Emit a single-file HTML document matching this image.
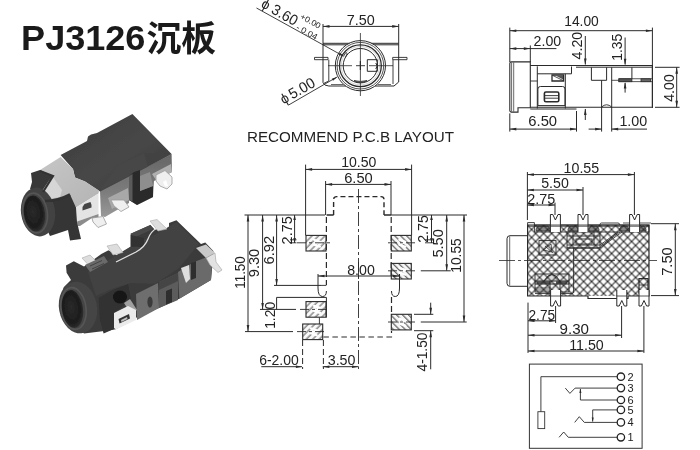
<!DOCTYPE html>
<html><head><meta charset="utf-8"><title>PJ3126</title>
<style>
html,body{margin:0;padding:0;background:#fff;overflow:hidden}
svg{display:block;will-change:transform}
text{font-family:"Liberation Sans",sans-serif}
</style></head><body>
<svg width="700" height="450" viewBox="0 0 700 450">
<rect x="0" y="0" width="700" height="450" fill="#fff"/>
<text x="21.1" y="50.2" font-size="35" font-weight="bold" text-anchor="start" fill="#1a1a1a" textLength="124.3" lengthAdjust="spacingAndGlyphs">PJ3126</text>
<text x="146.4" y="51.3" font-size="35" font-weight="bold" text-anchor="start" fill="#1a1a1a" textLength="69.5" lengthAdjust="spacingAndGlyphs" style="font-family:'Liberation Sans','Noto Sans CJK SC',sans-serif">沉板</text>
<defs><filter id="soft" x="-5%" y="-5%" width="110%" height="110%"><feGaussianBlur stdDeviation="0.55"/></filter><linearGradient id="gTop1" x1="0" y1="0" x2="1" y2="1"><stop offset="0" stop-color="#3e3e3e"/><stop offset="0.55" stop-color="#474747"/><stop offset="1" stop-color="#3a3a3a"/></linearGradient><linearGradient id="gSide1" x1="0" y1="0" x2="0" y2="1"><stop offset="0" stop-color="#666"/><stop offset="0.6" stop-color="#7c7c7c"/><stop offset="1" stop-color="#999"/></linearGradient><linearGradient id="gSh" x1="0" y1="0" x2="1" y2="1"><stop offset="0" stop-color="#c6c6c6"/><stop offset="1" stop-color="#b4b4b4"/></linearGradient><radialGradient id="gHole" cx="0.45" cy="0.45" r="0.6"><stop offset="0" stop-color="#2a2a2a"/><stop offset="0.7" stop-color="#1c1c1c"/><stop offset="1" stop-color="#333"/></radialGradient></defs>
<g filter="url(#soft)">
<polygon points="100,191 171.6,154 172,172 154,181 153,197 137,205 129,200 129,203 105,217 101,216" fill="url(#gSide1)" stroke="none" stroke-width="1"/>
<polygon points="108,198 128,188 129,200 112,209" fill="#a8a8a8" stroke="none" stroke-width="1"/>
<polygon points="152,174 171,164 172,172 156,180" fill="#b0b0b0" stroke="none" stroke-width="1"/>
<polygon points="60.6,155 87,141 88,136.5 91,134.5 97,133 132.4,114 171.6,154 148,166.5 126,178 100,191.5 85,181.5 75,177.5 73,169" fill="url(#gTop1)" stroke="none" stroke-width="1"/>
<polygon points="100,191 118,165 144,153 148,166.5" fill="#4b4b4b" stroke="none" stroke-width="1"/>
<polygon points="118,165 144,153 171.6,154 148,166.5 126,178 100,191.5" fill="#434343" stroke="none" stroke-width="1" opacity="0.6"/>
<polygon points="129,176 134,172 140,170 140,191 153,186 153,197 137,205 129,200" fill="#2c2c2c" stroke="none" stroke-width="1"/>
<polygon points="129,176 132.5,174 132.5,201.5 129,200" fill="#5a5a5a" stroke="none" stroke-width="1"/>
<polygon points="140,176 150,172 153,186 140,191" fill="#8e8e8e" stroke="none" stroke-width="1"/>
<polygon points="156,175 165,170.5 172,177 172,184 167,189 160,186 156,181" fill="#efefef" stroke="#9a9a9a" stroke-width="0.8"/>
<polygon points="163,182 166,180 168,186 165,186.5" fill="#fff" stroke="none" stroke-width="1"/>
<polygon points="111,200 124,200 129,207 121,211.5 114,206" fill="#efefef" stroke="#9a9a9a" stroke-width="0.8"/>
<polygon points="92,218 103,216.5 106.5,224 98,227.5 93,222" fill="#efefef" stroke="#9a9a9a" stroke-width="0.8"/>
<polygon points="40,170 60.6,157 73,169 75,177.5 85,181.5 99,190.5 98.5,193.5 76,207.5 70,197 45,201 40,190" fill="url(#gSh)" stroke="none" stroke-width="1"/>
<polygon points="43,183 53,177 62,190 60,197 48,199" fill="#d6d6d6" stroke="none" stroke-width="1"/>
<polygon points="76,207.5 98.5,193.5 98.5,214 77,221.5" fill="#e4e4e4" stroke="none" stroke-width="1"/>
<polygon points="77,221.5 98.5,214 98.5,217 92,218 80,226 77.5,226" fill="#8c8c8c" stroke="none" stroke-width="1"/>
<polygon points="82.5,207 84.5,204 90.5,202 91.5,205 91.5,207.5 82.5,210.5" fill="#444" stroke="none" stroke-width="1"/>
<polygon points="31,173 40,170 53,176 49,180.5 44,188 40,194 30,189 32,182" fill="#383838" stroke="none" stroke-width="1"/>
<polygon points="45,201 56,199.5 70,194.5 76,207.5 77,222 81,239 70,240.5 68,230 50,236 40,215" fill="#353535" stroke="none" stroke-width="1"/>
<ellipse cx="38" cy="212" rx="17" ry="24.5" fill="#434343" transform="rotate(-8 38 212)"/>
<ellipse cx="35" cy="213" rx="12.3" ry="20" fill="none" stroke="#555" stroke-width="1.6" transform="rotate(-8 35 213)"/>
<ellipse cx="34.5" cy="213.5" rx="10.5" ry="18" fill="url(#gHole)" transform="rotate(-8 34.5 213.5)"/>
<path d="M40,171 L53,176 Q48,184 43,192" stroke="#333" stroke-width="2.2" fill="none"/>
<path d="M45,201 Q58,201 70,194.5" stroke="#333" stroke-width="2.6" fill="none"/>
<polygon points="66,265.6 73.8,261.3 84,266.5 101.3,254 108.5,250.3 117,255.5 130.7,246.8 130.7,233.8 150.4,225.1 154.7,229.5 169,228 169,223 176.4,220.2 201,243.9 205.3,242.5 213.4,251 213.4,261 212.6,262.7 211,280 179.3,298.8 159,308 138.8,316.2 115.7,329.2 108.5,330.6 84,333.5 59.3,307.5 63.7,287.3 71,280 66.6,272.8" fill="#3b3b3b" stroke="none" stroke-width="1"/>
<polygon points="98.7,298 112,290.6 128,284 131,300 114,313 114,329 103.6,333.6 100,320" fill="#303030" stroke="none" stroke-width="1"/>
<polygon points="88,272 130,247 160,232 176.4,222 199,244 179,268 155,284 131,283 112,289 96,296" fill="#424242" stroke="none" stroke-width="1"/>
<polygon points="136,294 158,283 159,308 137,320" fill="#6e6e6e" stroke="none" stroke-width="1"/>
<polygon points="159,282 178,273 178,300 159,308" fill="#5c5c5c" stroke="none" stroke-width="1"/>
<polygon points="159,282 178,273 178,281 159,290" fill="#454545" stroke="none" stroke-width="1"/>
<polygon points="178,272 194,262 212.6,255 211,280 179.3,298.8" fill="#6a6a6a" stroke="none" stroke-width="1"/>
<polygon points="166,291 172,288.5 172,302 166,304.5" fill="#2e2e2e" stroke="none" stroke-width="1"/>
<ellipse cx="150" cy="302" rx="2.6" ry="5.5" fill="#3a3a3a"/>
<polygon points="191,263 196,261 196,278 191,280" fill="#2f2f2f" stroke="none" stroke-width="1"/>
<polygon points="181,268 189,265 190,279 186,283" fill="#dedede" stroke="none" stroke-width="1"/>
<polygon points="196,248 206,244.6 215,253 206,258" fill="#c9c9c9" stroke="none" stroke-width="1"/>
<polygon points="206,258 215,253 216,262 222,270 218,272.5 210,265" fill="#e2e2e2" stroke="#a0a0a0" stroke-width="0.6"/>
<polygon points="82,258 90,255 96,261 88,264.5" fill="#dddddd" stroke="#aaa" stroke-width="0.6"/>
<polygon points="107,246 117,244 123,252.5 113,255" fill="#dddddd" stroke="#aaa" stroke-width="0.6"/>
<polygon points="150,221 157,219.5 167,229 158,231" fill="#dddddd" stroke="#aaa" stroke-width="0.6"/>
<polygon points="130.7,233.8 150.4,225.1 153,229 133,238" fill="#4a4a4a" stroke="none" stroke-width="1"/>
<polygon points="130.7,235 144,238 144,247 130.7,246.8" fill="#333" stroke="none" stroke-width="1"/>
<path d="M157,228 Q151,231 148,239 Q145,247 136,252 L116,262" stroke="#e0e0e0" stroke-width="1.3" fill="none"/>
<polygon points="85,265 104,256 108,262 90,272" fill="#6a6a6a" stroke="none" stroke-width="1"/>
<path d="M90,266 L102,260.5 M92,269 L104,263.5" stroke="#3a3a3a" stroke-width="0.8" fill="none"/>
<ellipse cx="120" cy="297" rx="7" ry="6.5" fill="#161616"/>
<polygon points="124,303 130,299 137,310 131,314" fill="#a0a0a0" stroke="none" stroke-width="1"/>
<polygon points="114,313 128,306 136,310 136,320 116,329.5 114,328" fill="#ebebeb" stroke="none" stroke-width="1"/>
<polygon points="118.5,319 129,314 130,318.5 119.5,323.5" fill="#333" stroke="none" stroke-width="1"/>
<polygon points="121,320 127,317 127.5,319 121.5,322" fill="#bbb" stroke="none" stroke-width="1"/>
<ellipse cx="78" cy="307.5" rx="19" ry="26" fill="#454545" transform="rotate(-10 78 307.5)"/>
<ellipse cx="73.5" cy="308.5" rx="12.5" ry="21" fill="none" stroke="#575757" stroke-width="1.6" transform="rotate(-8 73.5 308.5)"/>
<ellipse cx="72.5" cy="309" rx="10.5" ry="19" fill="url(#gHole)" transform="rotate(-8 72.5 309)"/>
</g>
<line x1="323" y1="24" x2="323" y2="58" stroke="#2a2a2a" stroke-width="1"/>
<line x1="398.7" y1="24" x2="398.7" y2="58" stroke="#2a2a2a" stroke-width="1"/>
<line x1="323" y1="26.4" x2="398.7" y2="26.4" stroke="#2a2a2a" stroke-width="1"/>
<polygon points="323,26.4 329.5,25.1 329.5,27.7" fill="#2a2a2a" stroke="none" stroke-width="1"/>
<polygon points="398.7,26.4 392.2,27.7 392.2,25.1" fill="#2a2a2a" stroke="none" stroke-width="1"/>
<text x="346.8" y="25" font-size="15" font-weight="normal" text-anchor="start" fill="#222" textLength="28" lengthAdjust="spacingAndGlyphs">7.50</text>
<path d="M323,43.3 H398.7 M323,44.8 H398.7" stroke="#2a2a2a" stroke-width="1" fill="none"/>
<path d="M323,58 V82.5 Q324,85.8 328.8,86 H346 M398.7,58 V82 L394,86 H375" stroke="#2a2a2a" stroke-width="1" fill="none"/>
<path d="M314.5,57.4 H328 V59.7 H314.5 Z M392.7,57.4 H407 V59.7 H392.7 Z" stroke="#2a2a2a" stroke-width="0.9" fill="none"/>
<path d="M328.8,59.7 V81 L323.5,83.5 M393,59.7 V84 " stroke="#2a2a2a" stroke-width="0.9" fill="none"/>
<path d="M331,84.5 H343 M378,84.5 H391" stroke="#2a2a2a" stroke-width="0.7" fill="none"/>
<circle cx="360.4" cy="65.7" r="25.1" fill="#fff" stroke="#2a2a2a" stroke-width="1"/>
<circle cx="360.4" cy="65.7" r="23.3" fill="none" stroke="#2a2a2a" stroke-width="0.8"/>
<circle cx="360.4" cy="65.7" r="20.9" fill="none" stroke="#2a2a2a" stroke-width="1.3"/>
<circle cx="360.4" cy="65.7" r="17.2" fill="none" stroke="#2a2a2a" stroke-width="1"/>
<circle cx="360.4" cy="65.7" r="19.2" fill="none" stroke="#aaa" stroke-width="0.5"/>
<line x1="360.4" y1="33" x2="360.4" y2="96" stroke="#2a2a2a" stroke-width="0.8"/>
<line x1="328" y1="65.7" x2="352" y2="65.7" stroke="#2a2a2a" stroke-width="0.8"/>
<line x1="356" y1="65.7" x2="365" y2="65.7" stroke="#2a2a2a" stroke-width="0.9"/>
<line x1="369" y1="65.7" x2="393" y2="65.7" stroke="#2a2a2a" stroke-width="0.8"/>
<line x1="360.4" y1="61" x2="360.4" y2="70" stroke="#2a2a2a" stroke-width="1.2"/>
<path d="M367.3,59.7 H377.3 V71.3 H367.3 Z M375.8,63 Q378.5,65.7 375.8,69 " stroke="#2a2a2a" stroke-width="1" fill="none"/>
<path d="M354,80.6 Q360.4,84.5 367,80.6 Q360.4,82.3 354,80.6 Z" stroke="#2a2a2a" stroke-width="0.8" fill="#777"/>
<path d="M343.6,56 l2.2,-3.5 l1.4,0.8 l-1.6,4" stroke="#2a2a2a" stroke-width="0.8" fill="none"/>
<line x1="256.5" y1="8" x2="342.5" y2="55.6" stroke="#2a2a2a" stroke-width="0.9"/>
<polygon points="344.5,56.7 338.67,54.84 339.83,52.74" fill="#2a2a2a" stroke="none" stroke-width="1"/>
<line x1="288.3" y1="105.2" x2="336.7" y2="77.2" stroke="#2a2a2a" stroke-width="0.9"/>
<polygon points="337.6,76.7 333,80.74 331.8,78.66" fill="#2a2a2a" stroke="none" stroke-width="1"/>
<text x="260.2" y="6.4" font-size="14" font-weight="normal" text-anchor="start" fill="#222" transform="rotate(29 260.2 6.4)">ϕ</text>
<text x="270.2" y="12.6" font-size="15" font-weight="normal" text-anchor="start" fill="#222" textLength="27.8" lengthAdjust="spacingAndGlyphs" transform="rotate(29 270.2 12.6)">3.60</text>
<text x="299.6" y="18.2" font-size="8.2" font-weight="normal" text-anchor="start" fill="#222" textLength="22" lengthAdjust="spacingAndGlyphs" transform="rotate(29 299.6 18.2)">+0.00</text>
<text x="295.5" y="28.9" font-size="8.2" font-weight="normal" text-anchor="start" fill="#222" textLength="23" lengthAdjust="spacingAndGlyphs" transform="rotate(29 295.5 28.9)">- 0.04</text>
<text x="283.6" y="104.5" font-size="14" font-weight="normal" text-anchor="start" fill="#222" transform="rotate(-30 283.6 104.5)">ϕ</text>
<text x="292.2" y="99.6" font-size="15" font-weight="normal" text-anchor="start" fill="#222" textLength="27.8" lengthAdjust="spacingAndGlyphs" transform="rotate(-30 292.2 99.6)">5.00</text>
<line x1="509.8" y1="27.6" x2="509.8" y2="62" stroke="#2a2a2a" stroke-width="1"/>
<line x1="652.4" y1="27.6" x2="652.4" y2="108" stroke="#2a2a2a" stroke-width="1"/>
<line x1="509.8" y1="30.7" x2="652.4" y2="30.7" stroke="#2a2a2a" stroke-width="1"/>
<polygon points="509.8,30.7 516.3,29.4 516.3,32" fill="#2a2a2a" stroke="none" stroke-width="1"/>
<polygon points="652.4,30.7 645.9,32 645.9,29.4" fill="#2a2a2a" stroke="none" stroke-width="1"/>
<text x="564.2" y="26.3" font-size="15" font-weight="normal" text-anchor="start" fill="#222" textLength="34.6" lengthAdjust="spacingAndGlyphs">14.00</text>
<line x1="530.3" y1="45.4" x2="530.3" y2="62" stroke="#2a2a2a" stroke-width="1"/>
<line x1="509.8" y1="48.6" x2="556.4" y2="48.6" stroke="#2a2a2a" stroke-width="1"/>
<polygon points="530.3,48.6 523.8,49.9 523.8,47.3" fill="#2a2a2a" stroke="none" stroke-width="1"/>
<polygon points="509.8,48.6 516.3,47.3 516.3,49.9" fill="#2a2a2a" stroke="none" stroke-width="1"/>
<text x="533.6" y="46.4" font-size="15" font-weight="normal" text-anchor="start" fill="#222" textLength="27.6" lengthAdjust="spacingAndGlyphs">2.00</text>
<line x1="585.3" y1="36" x2="585.3" y2="64.5" stroke="#2a2a2a" stroke-width="1"/>
<polygon points="585.3,65 584,58.5 586.6,58.5" fill="#2a2a2a" stroke="none" stroke-width="1"/>
<line x1="585.3" y1="109" x2="585.3" y2="120" stroke="#2a2a2a" stroke-width="1"/>
<polygon points="585.3,108.5 586.6,115 584,115" fill="#2a2a2a" stroke="none" stroke-width="1"/>
<text x="581.8" y="59.4" font-size="15" font-weight="normal" text-anchor="start" fill="#222" textLength="27.6" lengthAdjust="spacingAndGlyphs" transform="rotate(-90 581.8 59.4)">4.20</text>
<line x1="625.1" y1="37.5" x2="625.1" y2="64.5" stroke="#2a2a2a" stroke-width="1"/>
<polygon points="625.1,65.2 623.8,58.7 626.4,58.7" fill="#2a2a2a" stroke="none" stroke-width="1"/>
<line x1="625.1" y1="83" x2="625.1" y2="92.6" stroke="#2a2a2a" stroke-width="1"/>
<polygon points="625.1,82 626.4,88.5 623.8,88.5" fill="#2a2a2a" stroke="none" stroke-width="1"/>
<text x="622" y="60.8" font-size="15" font-weight="normal" text-anchor="start" fill="#222" textLength="27.1" lengthAdjust="spacingAndGlyphs" transform="rotate(-90 622 60.8)">1.35</text>
<line x1="655" y1="67.3" x2="679.6" y2="67.3" stroke="#2a2a2a" stroke-width="1"/>
<line x1="655" y1="107.3" x2="679.6" y2="107.3" stroke="#2a2a2a" stroke-width="1"/>
<line x1="676.7" y1="67.3" x2="676.7" y2="107.3" stroke="#2a2a2a" stroke-width="1"/>
<polygon points="676.7,67.3 678,73.8 675.4,73.8" fill="#2a2a2a" stroke="none" stroke-width="1"/>
<polygon points="676.7,107.3 675.4,100.8 678,100.8" fill="#2a2a2a" stroke="none" stroke-width="1"/>
<text x="673.8" y="101.8" font-size="15" font-weight="normal" text-anchor="start" fill="#222" textLength="27.6" lengthAdjust="spacingAndGlyphs" transform="rotate(-90 673.8 101.8)">4.00</text>
<line x1="509.8" y1="113.4" x2="509.8" y2="131.6" stroke="#2a2a2a" stroke-width="1"/>
<line x1="576.5" y1="111" x2="576.5" y2="131.6" stroke="#2a2a2a" stroke-width="1"/>
<line x1="509.8" y1="129.1" x2="576.5" y2="129.1" stroke="#2a2a2a" stroke-width="1"/>
<polygon points="509.8,129.1 516.3,127.8 516.3,130.4" fill="#2a2a2a" stroke="none" stroke-width="1"/>
<polygon points="576.5,129.1 570,130.4 570,127.8" fill="#2a2a2a" stroke="none" stroke-width="1"/>
<text x="528.3" y="126.2" font-size="15" font-weight="normal" text-anchor="start" fill="#222" textLength="28.8" lengthAdjust="spacingAndGlyphs">6.50</text>
<line x1="601.6" y1="107" x2="601.6" y2="131.6" stroke="#2a2a2a" stroke-width="1"/>
<line x1="611.7" y1="107" x2="611.7" y2="131.6" stroke="#2a2a2a" stroke-width="1"/>
<line x1="588.6" y1="129.1" x2="601.6" y2="129.1" stroke="#2a2a2a" stroke-width="1"/>
<polygon points="601.6,129.1 595.1,130.4 595.1,127.8" fill="#2a2a2a" stroke="none" stroke-width="1"/>
<line x1="611.7" y1="129.1" x2="647" y2="129.1" stroke="#2a2a2a" stroke-width="1"/>
<polygon points="611.7,129.1 618.2,127.8 618.2,130.4" fill="#2a2a2a" stroke="none" stroke-width="1"/>
<text x="619.4" y="126.2" font-size="15" font-weight="normal" text-anchor="start" fill="#222" textLength="27.8" lengthAdjust="spacingAndGlyphs">1.00</text>
<path d="M511.3,61.9 H530.3 V107.7 H518 V112.1 H511.3 Q509.8,112.1 509.8,110.6 V63.4 Q509.8,61.9 511.3,61.9 Z" stroke="#2a2a2a" stroke-width="1.1" fill="#fff"/>
<line x1="511.6" y1="62.5" x2="511.6" y2="111.5" stroke="#2a2a2a" stroke-width="0.7"/>
<line x1="513.7" y1="62.5" x2="513.7" y2="111.5" stroke="#2a2a2a" stroke-width="0.7"/>
<path d="M530.3,65.5 H652.4 V107.3 H530.3" stroke="#2a2a2a" stroke-width="1.1" fill="none"/>
<line x1="576" y1="67.2" x2="652.4" y2="67.2" stroke="#2a2a2a" stroke-width="1"/>
<line x1="530.3" y1="109" x2="576.5" y2="109" stroke="#2a2a2a" stroke-width="1"/>
<line x1="537.3" y1="66.3" x2="537.3" y2="108.5" stroke="#2a2a2a" stroke-width="1"/>
<line x1="530.3" y1="81" x2="537.3" y2="81" stroke="#2a2a2a" stroke-width="0.9"/>
<path d="M537.3,73.8 H571.5 V66.5" stroke="#2a2a2a" stroke-width="1" fill="none"/>
<line x1="565.3" y1="73.8" x2="565.3" y2="108.5" stroke="#2a2a2a" stroke-width="1"/>
<path d="M552,75 H563.6 V81 H552 Z" stroke="#2a2a2a" stroke-width="1.3" fill="none"/>
<path d="M553,75.6 L563,80.5" stroke="#2a2a2a" stroke-width="0.8" fill="none"/>
<polygon points="556,75.8 563,75.8 563,79.5" fill="#555" stroke="none" stroke-width="1"/>
<path d="M537.9,105.6 V89 Q537.9,86.5 540.4,86.5 H562.5 Q565,86.5 565,89 V105.6 Z" stroke="#2a2a2a" stroke-width="1" fill="none"/>
<rect x="544.4" y="92" width="14.4" height="9.8" fill="none" stroke="#2a2a2a" stroke-width="1.6" rx="1.5"/>
<line x1="545" y1="95.6" x2="558.5" y2="95.6" stroke="#2a2a2a" stroke-width="0.9"/>
<line x1="545" y1="98.2" x2="558.5" y2="98.2" stroke="#2a2a2a" stroke-width="0.9"/>
<path d="M591.4,67.3 V80.3 H606.6 V67.3" stroke="#2a2a2a" stroke-width="1" fill="none"/>
<line x1="601.6" y1="80.3" x2="601.6" y2="107" stroke="#2a2a2a" stroke-width="1"/>
<line x1="611.7" y1="67.3" x2="611.7" y2="107" stroke="#2a2a2a" stroke-width="1"/>
<path d="M601.6,107 Q606.6,102.5 611.7,107" stroke="#2a2a2a" stroke-width="0.9" fill="none"/>
<line x1="631.9" y1="67.3" x2="631.9" y2="78.8" stroke="#2a2a2a" stroke-width="1"/>
<rect x="618.9" y="78.8" width="33.5" height="2.9" fill="none" stroke="#2a2a2a" stroke-width="0.8" rx="0"/>
<rect x="618.9" y="78.8" width="13" height="2.9" fill="#555" stroke="#2a2a2a" stroke-width="0.8" rx="0"/>
<rect x="641" y="78.8" width="9.5" height="2.9" fill="#666" stroke="#2a2a2a" stroke-width="0.8" rx="0"/>
<line x1="611.7" y1="80.3" x2="618.9" y2="80.3" stroke="#2a2a2a" stroke-width="0.8"/>
<text x="247" y="141.7" font-size="14" font-weight="normal" text-anchor="start" fill="#222" textLength="207" lengthAdjust="spacingAndGlyphs">RECOMMEND P.C.B LAYOUT</text>
<line x1="305.6" y1="164.6" x2="305.6" y2="235.4" stroke="#2a2a2a" stroke-width="1"/>
<line x1="411.6" y1="164.6" x2="411.6" y2="235.4" stroke="#2a2a2a" stroke-width="1"/>
<line x1="305.6" y1="169.4" x2="411.6" y2="169.4" stroke="#2a2a2a" stroke-width="1"/>
<polygon points="305.6,169.4 312.1,168.1 312.1,170.7" fill="#2a2a2a" stroke="none" stroke-width="1"/>
<polygon points="411.6,169.4 405.1,170.7 405.1,168.1" fill="#2a2a2a" stroke="none" stroke-width="1"/>
<text x="341.2" y="167" font-size="15" font-weight="normal" text-anchor="start" fill="#222" textLength="35.2" lengthAdjust="spacingAndGlyphs">10.50</text>
<line x1="325.6" y1="181" x2="325.6" y2="215" stroke="#2a2a2a" stroke-width="1"/>
<line x1="391" y1="181" x2="391" y2="215" stroke="#2a2a2a" stroke-width="1"/>
<line x1="325.6" y1="184.4" x2="391" y2="184.4" stroke="#2a2a2a" stroke-width="1"/>
<polygon points="325.6,184.4 332.1,183.1 332.1,185.7" fill="#2a2a2a" stroke="none" stroke-width="1"/>
<polygon points="391,184.4 384.5,185.7 384.5,183.1" fill="#2a2a2a" stroke="none" stroke-width="1"/>
<text x="344.2" y="183" font-size="15" font-weight="normal" text-anchor="start" fill="#222" textLength="28.6" lengthAdjust="spacingAndGlyphs">6.50</text>
<line x1="244.5" y1="215" x2="325" y2="215" stroke="#2a2a2a" stroke-width="1.1"/>
<line x1="391" y1="215" x2="467" y2="215" stroke="#2a2a2a" stroke-width="1.1"/>
<path d="M333.6,215 V199.6 Q333.6,196.6 336.6,196.6 H381 Q384,196.6 384,199.6 V215" stroke="#2a2a2a" stroke-width="1.4" fill="none" stroke-dasharray="5,3"/>
<path d="M326.6,215 H333.6 M384,215 H391" stroke="#2a2a2a" stroke-width="1.3" fill="none"/>
<path d="M326.4,217 V285" stroke="#2a2a2a" stroke-width="1.2" fill="none" stroke-dasharray="6,3"/>
<path d="M391.2,217 V276" stroke="#2a2a2a" stroke-width="1.2" fill="none" stroke-dasharray="6,3"/>
<path d="M391.5,297 V314" stroke="#2a2a2a" stroke-width="1.2" fill="none" stroke-dasharray="6,3"/>
<path d="M323.4,337 H391.5 V331" stroke="#2a2a2a" stroke-width="1.2" fill="none" stroke-dasharray="5.5,3.5"/>
<path d="M302.6,340 V369 M323.4,340 V369" stroke="#2a2a2a" stroke-width="1" fill="none" stroke-dasharray="6,3"/>
<path d="M358.5,189 V369" stroke="#2a2a2a" stroke-width="0.9" fill="none" stroke-dasharray="14,3,3,3"/>
<defs><pattern id="ht" width="4.6" height="4.6" patternUnits="userSpaceOnUse" patternTransform="rotate(-45)"><rect width="4.6" height="4.6" fill="#fafafa"/><line x1="0" y1="1" x2="4.6" y2="1" stroke="#2c2c2c" stroke-width="0.8"/></pattern><pattern id="ht2" width="4.2" height="4.2" patternUnits="userSpaceOnUse" patternTransform="rotate(45)"><rect width="4.2" height="4.2" fill="#f6f6f6"/><line x1="0" y1="1" x2="4.2" y2="1" stroke="#262626" stroke-width="0.85"/></pattern></defs>
<rect x="306" y="235.4" width="20" height="15.6" fill="url(#ht)" stroke="#2a2a2a" stroke-width="1.1" rx="0"/>
<path d="M314,239.7 L320,241.7 L314,244.7 L320,246.7" stroke="#fff" stroke-width="2.2" fill="none" stroke-linejoin="round" stroke-linecap="round"/>
<rect x="306" y="301.6" width="20" height="15.6" fill="url(#ht)" stroke="#2a2a2a" stroke-width="1.1" rx="0"/>
<path d="M314,305.9 L320,307.9 L314,310.9 L320,312.9" stroke="#fff" stroke-width="2.2" fill="none" stroke-linejoin="round" stroke-linecap="round"/>
<rect x="302.7" y="324" width="20" height="15.6" fill="url(#ht)" stroke="#2a2a2a" stroke-width="1.1" rx="0"/>
<path d="M310.7,328.3 L316.7,330.3 L310.7,333.3 L316.7,335.3" stroke="#fff" stroke-width="2.2" fill="none" stroke-linejoin="round" stroke-linecap="round"/>
<rect x="391.3" y="235.4" width="20" height="15.6" fill="url(#ht2)" stroke="#2a2a2a" stroke-width="1.1" rx="0"/>
<path d="M399.3,239.7 L405.3,241.7 L399.3,244.7 L405.3,246.7" stroke="#fff" stroke-width="2.2" fill="none" stroke-linejoin="round" stroke-linecap="round"/>
<rect x="391.3" y="263.4" width="20" height="15.6" fill="url(#ht2)" stroke="#2a2a2a" stroke-width="1.1" rx="0"/>
<path d="M399.3,267.7 L405.3,269.7 L399.3,272.7 L405.3,274.7" stroke="#fff" stroke-width="2.2" fill="none" stroke-linejoin="round" stroke-linecap="round"/>
<rect x="391.3" y="314.3" width="20" height="15.6" fill="url(#ht2)" stroke="#2a2a2a" stroke-width="1.1" rx="0"/>
<path d="M399.3,318.6 L405.3,320.6 L399.3,323.6 L405.3,325.6" stroke="#fff" stroke-width="2.2" fill="none" stroke-linejoin="round" stroke-linecap="round"/>
<path d="M297,242.8 H330" stroke="#2a2a2a" stroke-width="0.9" fill="none" stroke-dasharray="9,3,3,3"/>
<path d="M300,309.4 H330" stroke="#2a2a2a" stroke-width="0.9" fill="none" stroke-dasharray="9,3,3,3"/>
<path d="M297,331.6 H327" stroke="#2a2a2a" stroke-width="0.9" fill="none" stroke-dasharray="9,3,3,3"/>
<path d="M388,242.8 H417" stroke="#2a2a2a" stroke-width="0.9" fill="none" stroke-dasharray="9,3,3,3"/>
<path d="M388,270.8 H417" stroke="#2a2a2a" stroke-width="0.9" fill="none" stroke-dasharray="9,3,3,3"/>
<path d="M388,322 H417" stroke="#2a2a2a" stroke-width="0.9" fill="none" stroke-dasharray="9,3,3,3"/>
<line x1="260" y1="309.4" x2="296" y2="309.4" stroke="#2a2a2a" stroke-width="1"/>
<line x1="245" y1="331.6" x2="293" y2="331.6" stroke="#2a2a2a" stroke-width="1"/>
<line x1="420.8" y1="270.8" x2="450.7" y2="270.8" stroke="#2a2a2a" stroke-width="1"/>
<line x1="420.8" y1="322" x2="466.7" y2="322" stroke="#2a2a2a" stroke-width="1"/>
<path d="M318,274 V288 Q318,296.5 322.5,296.5 Q326.4,296.5 326.4,291 M326.4,297.4 V317.4" stroke="#2a2a2a" stroke-width="1" fill="none"/>
<path d="M319.4,317.4 V324" stroke="#2a2a2a" stroke-width="0.9" fill="none"/>
<path d="M399.5,274 V288 Q399.5,296.5 395.3,296.5 Q391.5,296.5 391.5,291" stroke="#2a2a2a" stroke-width="1" fill="none"/>
<path d="M326.4,285.4 H321" stroke="#2a2a2a" stroke-width="0.9" fill="none"/>
<line x1="318" y1="276" x2="399.5" y2="276" stroke="#2a2a2a" stroke-width="1"/>
<polygon points="318,276 324.5,274.7 324.5,277.3" fill="#2a2a2a" stroke="none" stroke-width="1"/>
<polygon points="399.5,276 393,277.3 393,274.7" fill="#2a2a2a" stroke="none" stroke-width="1"/>
<text x="347.2" y="274.5" font-size="15" font-weight="normal" text-anchor="start" fill="#222" textLength="27.6" lengthAdjust="spacingAndGlyphs">8.00</text>
<path d="M358.5,262 V279" stroke="#2a2a2a" stroke-width="0.9" fill="none"/>
<line x1="248" y1="215" x2="248" y2="331.6" stroke="#2a2a2a" stroke-width="1"/>
<polygon points="248,215 249.3,221.5 246.7,221.5" fill="#2a2a2a" stroke="none" stroke-width="1"/>
<polygon points="248,331.6 246.7,325.1 249.3,325.1" fill="#2a2a2a" stroke="none" stroke-width="1"/>
<line x1="262.6" y1="215" x2="262.6" y2="309.4" stroke="#2a2a2a" stroke-width="1"/>
<polygon points="262.6,215 263.9,221.5 261.3,221.5" fill="#2a2a2a" stroke="none" stroke-width="1"/>
<polygon points="262.6,309.4 261.3,302.9 263.9,302.9" fill="#2a2a2a" stroke="none" stroke-width="1"/>
<line x1="276.6" y1="215" x2="276.6" y2="285.4" stroke="#2a2a2a" stroke-width="1"/>
<polygon points="276.6,215 277.9,221.5 275.3,221.5" fill="#2a2a2a" stroke="none" stroke-width="1"/>
<polygon points="276.6,285.4 275.3,278.9 277.9,278.9" fill="#2a2a2a" stroke="none" stroke-width="1"/>
<line x1="294.6" y1="215" x2="294.6" y2="243" stroke="#2a2a2a" stroke-width="1"/>
<polygon points="294.6,215 295.9,220 293.3,220" fill="#2a2a2a" stroke="none" stroke-width="1"/>
<polygon points="294.6,243 293.3,238 295.9,238" fill="#2a2a2a" stroke="none" stroke-width="1"/>
<path d="M290,239.8 H296.5 M290,242.8 H296.5" stroke="#2a2a2a" stroke-width="0.9" fill="none"/>
<line x1="274" y1="285.4" x2="321" y2="285.4" stroke="#2a2a2a" stroke-width="1"/>
<line x1="276.6" y1="297.4" x2="326.4" y2="297.4" stroke="#2a2a2a" stroke-width="1"/>
<line x1="276.6" y1="297.4" x2="276.6" y2="309.4" stroke="#2a2a2a" stroke-width="1"/>
<text x="245" y="288.8" font-size="15" font-weight="normal" text-anchor="start" fill="#222" textLength="32.6" lengthAdjust="spacingAndGlyphs" transform="rotate(-90 245 288.8)">11.50</text>
<text x="259.4" y="277.2" font-size="15" font-weight="normal" text-anchor="start" fill="#222" textLength="28.4" lengthAdjust="spacingAndGlyphs" transform="rotate(-90 259.4 277.2)">9.30</text>
<text x="273.6" y="264.4" font-size="15" font-weight="normal" text-anchor="start" fill="#222" textLength="28.6" lengthAdjust="spacingAndGlyphs" transform="rotate(-90 273.6 264.4)">6.92</text>
<text x="292" y="244.4" font-size="15" font-weight="normal" text-anchor="start" fill="#222" textLength="28.2" lengthAdjust="spacingAndGlyphs" transform="rotate(-90 292 244.4)">2.75</text>
<text x="274.7" y="328.8" font-size="15" font-weight="normal" text-anchor="start" fill="#222" textLength="26.9" lengthAdjust="spacingAndGlyphs" transform="rotate(-90 274.7 328.8)">1.20</text>
<line x1="431.5" y1="215" x2="431.5" y2="243" stroke="#2a2a2a" stroke-width="1"/>
<polygon points="431.5,215 432.8,220 430.2,220" fill="#2a2a2a" stroke="none" stroke-width="1"/>
<polygon points="431.5,243 430.2,238 432.8,238" fill="#2a2a2a" stroke="none" stroke-width="1"/>
<path d="M425,239.8 H433 M425,242.8 H433" stroke="#2a2a2a" stroke-width="0.9" fill="none"/>
<line x1="446.7" y1="215" x2="446.7" y2="270.8" stroke="#2a2a2a" stroke-width="1"/>
<polygon points="446.7,215 448,221.5 445.4,221.5" fill="#2a2a2a" stroke="none" stroke-width="1"/>
<polygon points="446.7,270.8 445.4,264.3 448,264.3" fill="#2a2a2a" stroke="none" stroke-width="1"/>
<line x1="464" y1="215" x2="464" y2="322" stroke="#2a2a2a" stroke-width="1"/>
<polygon points="464,215 465.3,221.5 462.7,221.5" fill="#2a2a2a" stroke="none" stroke-width="1"/>
<polygon points="464,322 462.7,315.5 465.3,315.5" fill="#2a2a2a" stroke="none" stroke-width="1"/>
<text x="428.4" y="242.8" font-size="15" font-weight="normal" text-anchor="start" fill="#222" textLength="27.6" lengthAdjust="spacingAndGlyphs" transform="rotate(-90 428.4 242.8)">2.75</text>
<text x="443.2" y="257.5" font-size="15" font-weight="normal" text-anchor="start" fill="#222" textLength="28.3" lengthAdjust="spacingAndGlyphs" transform="rotate(-90 443.2 257.5)">5.50</text>
<text x="460.9" y="272.8" font-size="15" font-weight="normal" text-anchor="start" fill="#222" textLength="34.6" lengthAdjust="spacingAndGlyphs" transform="rotate(-90 460.9 272.8)">10.55</text>
<line x1="414" y1="314.3" x2="433.3" y2="314.3" stroke="#2a2a2a" stroke-width="1"/>
<line x1="414" y1="330.7" x2="433.3" y2="330.7" stroke="#2a2a2a" stroke-width="1"/>
<line x1="430.7" y1="302.7" x2="430.7" y2="314.3" stroke="#2a2a2a" stroke-width="1"/>
<polygon points="430.7,314.3 429.4,307.8 432,307.8" fill="#2a2a2a" stroke="none" stroke-width="1"/>
<line x1="430.7" y1="330.7" x2="430.7" y2="369.3" stroke="#2a2a2a" stroke-width="1"/>
<polygon points="430.7,330.7 432,337.2 429.4,337.2" fill="#2a2a2a" stroke="none" stroke-width="1"/>
<text x="427.2" y="371.5" font-size="15" font-weight="normal" text-anchor="start" fill="#222" textLength="39" lengthAdjust="spacingAndGlyphs" transform="rotate(-90 427.2 371.5)">4-1.50</text>
<line x1="261.3" y1="366.7" x2="301.9" y2="366.7" stroke="#2a2a2a" stroke-width="1"/>
<polygon points="302.4,366.7 295.9,368 295.9,365.4" fill="#2a2a2a" stroke="none" stroke-width="1"/>
<line x1="322.7" y1="366.7" x2="358.7" y2="366.7" stroke="#2a2a2a" stroke-width="1"/>
<polygon points="322.9,366.7 329.4,365.4 329.4,368" fill="#2a2a2a" stroke="none" stroke-width="1"/>
<polygon points="358.5,366.7 352,368 352,365.4" fill="#2a2a2a" stroke="none" stroke-width="1"/>
<text x="259.2" y="365.3" font-size="15" font-weight="normal" text-anchor="start" fill="#222" textLength="39.6" lengthAdjust="spacingAndGlyphs">6-2.00</text>
<text x="327.7" y="365.3" font-size="15" font-weight="normal" text-anchor="start" fill="#222" textLength="27.8" lengthAdjust="spacingAndGlyphs">3.50</text>
<defs><pattern id="xh" width="8" height="8" patternUnits="userSpaceOnUse" x="527.6" y="225.5"><path d="M0,0 L8,8 M8,0 L0,8" stroke="#262626" stroke-width="1.05" fill="none"/></pattern><clipPath id="bodyclip"><rect x="527.6" y="225" width="121.4" height="71"/></clipPath></defs>
<line x1="527.4" y1="172" x2="527.4" y2="220" stroke="#2a2a2a" stroke-width="1"/>
<line x1="634.4" y1="172" x2="634.4" y2="215" stroke="#2a2a2a" stroke-width="1"/>
<line x1="583" y1="187" x2="583" y2="215" stroke="#2a2a2a" stroke-width="1"/>
<line x1="555" y1="202.6" x2="555" y2="215" stroke="#2a2a2a" stroke-width="1"/>
<line x1="527.4" y1="174.6" x2="634.4" y2="174.6" stroke="#2a2a2a" stroke-width="1"/>
<polygon points="527.4,174.6 533.9,173.3 533.9,175.9" fill="#2a2a2a" stroke="none" stroke-width="1"/>
<polygon points="634.4,174.6 627.9,175.9 627.9,173.3" fill="#2a2a2a" stroke="none" stroke-width="1"/>
<text x="563.6" y="173.4" font-size="15" font-weight="normal" text-anchor="start" fill="#222" textLength="35.6" lengthAdjust="spacingAndGlyphs">10.55</text>
<line x1="527.4" y1="190" x2="583" y2="190" stroke="#2a2a2a" stroke-width="1"/>
<polygon points="527.4,190 533.9,188.7 533.9,191.3" fill="#2a2a2a" stroke="none" stroke-width="1"/>
<polygon points="583,190 576.5,191.3 576.5,188.7" fill="#2a2a2a" stroke="none" stroke-width="1"/>
<text x="541.2" y="188.4" font-size="15" font-weight="normal" text-anchor="start" fill="#222" textLength="27.6" lengthAdjust="spacingAndGlyphs">5.50</text>
<line x1="527.4" y1="205" x2="555" y2="205" stroke="#2a2a2a" stroke-width="1"/>
<polygon points="527.4,205 533.9,203.7 533.9,206.3" fill="#2a2a2a" stroke="none" stroke-width="1"/>
<polygon points="555,205 548.5,206.3 548.5,203.7" fill="#2a2a2a" stroke="none" stroke-width="1"/>
<text x="527.2" y="203.6" font-size="15" font-weight="normal" text-anchor="start" fill="#222" textLength="28" lengthAdjust="spacingAndGlyphs">2.75</text>
<path d="M527.6,235.7 H510 Q507,235.7 507,238.7 V283.3 Q507,286.3 510,286.3 H527.6" stroke="#2a2a2a" stroke-width="1" fill="#fff"/>
<line x1="509.7" y1="236.5" x2="509.7" y2="285.5" stroke="#2a2a2a" stroke-width="0.7"/>
<rect x="527.6" y="225" width="121.4" height="71" fill="#fff" stroke="none" stroke-width="1" rx="0"/>
<rect x="534.4" y="225" width="114.6" height="7" fill="#fff" stroke="#2a2a2a" stroke-width="0.8" rx="0"/>
<polygon points="536,229 538,226 548,226 550,229 550,231 536,231" fill="#888" stroke="#2a2a2a" stroke-width="0.7"/>
<polygon points="568,229 570,226 576,226 578,229 578,231 568,231" fill="#888" stroke="#2a2a2a" stroke-width="0.7"/>
<polygon points="589,229 591,226 597,226 599,229 599,231 589,231" fill="#888" stroke="#2a2a2a" stroke-width="0.7"/>
<polygon points="619.6,229 621.6,226 627,226 629,229 629,231 619.6,231" fill="#888" stroke="#2a2a2a" stroke-width="0.7"/>
<polygon points="639.6,229 641.6,226 644,226 646,229 646,231 639.6,231" fill="#888" stroke="#2a2a2a" stroke-width="0.7"/>
<rect x="539" y="240.6" width="17" height="14.4" fill="#f2f2f2" stroke="#2a2a2a" stroke-width="0.9" rx="0"/>
<path d="M543,250 L551,244 L552,252 Z M545,246 L553,253" stroke="#333" stroke-width="0.8" fill="none"/>
<rect x="567" y="232" width="33" height="16" fill="#eee" stroke="#2a2a2a" stroke-width="0.9" rx="0"/>
<path d="M567,236 H600 M567,245 H600 M567,248 H600 M573,232 V245 M594,232 V245" stroke="#2a2a2a" stroke-width="0.8" fill="none"/>
<rect x="576" y="239" width="16" height="5" fill="#fff" stroke="#2a2a2a" stroke-width="0.8" rx="0"/>
<path d="M600,245 L618,232 M600,246.5 L620,232 M600,248 L622,232" stroke="#2a2a2a" stroke-width="0.8" fill="none"/>
<line x1="573.6" y1="248" x2="573.6" y2="293" stroke="#2a2a2a" stroke-width="0.9"/>
<rect x="535" y="274" width="34" height="18" fill="#f4f4f4" stroke="#2a2a2a" stroke-width="0.9" rx="0"/>
<path d="M544,281 Q552,268 560,281" stroke="#2a2a2a" stroke-width="1" fill="#ddd"/>
<path d="M535,281 H569 M535,284 H569" stroke="#2a2a2a" stroke-width="1.1" fill="none"/>
<rect x="537" y="281" width="13" height="3" fill="#555" stroke="none" stroke-width="1" rx="0"/>
<rect x="556" y="281" width="11" height="3" fill="#555" stroke="none" stroke-width="1" rx="0"/>
<path d="M550,281 V296 M560,281 V296" stroke="#2a2a2a" stroke-width="0.9" fill="none"/>
<path d="M535,288 H550 M535,290 H550" stroke="#2a2a2a" stroke-width="0.7" fill="none"/>
<rect x="639" y="278.6" width="9" height="14.4" fill="#fff" stroke="#2a2a2a" stroke-width="1.2" rx="0"/>
<line x1="639" y1="285" x2="648" y2="285" stroke="#2a2a2a" stroke-width="0.8"/>
<rect x="527.6" y="225" width="121.4" height="71" fill="url(#xh)" stroke="none" stroke-width="1" rx="0"/>
<path d="M527.6,225 H649 V296 H628 V298.5 H588 V296 H527.6 Z" stroke="#2a2a2a" stroke-width="1.2" fill="none"/>
<line x1="527.6" y1="226.2" x2="649" y2="226.2" stroke="#2a2a2a" stroke-width="0.9"/>
<line x1="535" y1="293.5" x2="573" y2="293.5" stroke="#2a2a2a" stroke-width="0.8"/>
<path d="M527.6,225 V222.6 H534.4 V225" stroke="#2a2a2a" stroke-width="0.9" fill="none"/>
<path d="M600,225 V224.5 Q600,223 601.5,223 H618 Q619.6,223 619.6,224.5 V225" stroke="#2a2a2a" stroke-width="0.9" fill="none"/>
<line x1="623" y1="223" x2="651" y2="223" stroke="#2a2a2a" stroke-width="0.8"/>
<path d="M550.4,232 V214.5 L552.8,214.5 L555.4,220 L558.0,214.5 L560.4,214.5 V232" stroke="#2a2a2a" stroke-width="1" fill="#fff"/>
<path d="M550.4,225 H560.4 M550.4,226.2 H560.4" stroke="#2a2a2a" stroke-width="0.8" fill="none"/>
<path d="M578,232 V214.5 L580.4,214.5 L583,220 L585.6,214.5 L588,214.5 V232" stroke="#2a2a2a" stroke-width="1" fill="#fff"/>
<path d="M578,225 H588 M578,226.2 H588" stroke="#2a2a2a" stroke-width="0.8" fill="none"/>
<path d="M629.6,232 V214.5 L632.0,214.5 L634.6,220 L637.2,214.5 L639.6,214.5 V232" stroke="#2a2a2a" stroke-width="1" fill="#fff"/>
<path d="M629.6,225 H639.6 M629.6,226.2 H639.6" stroke="#2a2a2a" stroke-width="0.8" fill="none"/>
<path d="M550.6,290 V306 L553.0,306 L555.6,300.5 L558.2,306 L560.6,306 V290" stroke="#2a2a2a" stroke-width="1" fill="#fff"/>
<path d="M550.6,296 H560.6" stroke="#2a2a2a" stroke-width="0.8" fill="none"/>
<path d="M616.8,290 V306 L619.1999999999999,306 L621.8,300.5 L624.4,306 L626.8,306 V290" stroke="#2a2a2a" stroke-width="1" fill="#fff"/>
<path d="M616.8,296 H626.8" stroke="#2a2a2a" stroke-width="0.8" fill="none"/>
<path d="M639,290 V306 L641.4,306 L644,300.5 L646.6,306 L649,306 V290" stroke="#2a2a2a" stroke-width="1" fill="#fff"/>
<path d="M639,296 H649" stroke="#2a2a2a" stroke-width="0.8" fill="none"/>
<path d="M499,260.5 H657" stroke="#2a2a2a" stroke-width="0.8" fill="none" stroke-dasharray="16,3,3,3"/>
<line x1="651" y1="223.7" x2="679" y2="223.7" stroke="#2a2a2a" stroke-width="1"/>
<line x1="651" y1="295.6" x2="679" y2="295.6" stroke="#2a2a2a" stroke-width="1"/>
<line x1="675.3" y1="223.7" x2="675.3" y2="295.6" stroke="#2a2a2a" stroke-width="1"/>
<polygon points="675.3,223.7 676.6,230.2 674,230.2" fill="#2a2a2a" stroke="none" stroke-width="1"/>
<polygon points="675.3,295.6 674,289.1 676.6,289.1" fill="#2a2a2a" stroke="none" stroke-width="1"/>
<text x="672" y="275.8" font-size="15" font-weight="normal" text-anchor="start" fill="#222" textLength="28.6" lengthAdjust="spacingAndGlyphs" transform="rotate(-90 672 275.8)">7.50</text>
<line x1="528" y1="302.6" x2="528" y2="352.9" stroke="#2a2a2a" stroke-width="1"/>
<line x1="555.6" y1="306" x2="555.6" y2="323" stroke="#2a2a2a" stroke-width="1"/>
<line x1="621.6" y1="306" x2="621.6" y2="338" stroke="#2a2a2a" stroke-width="1"/>
<line x1="643.9" y1="306" x2="643.9" y2="352.9" stroke="#2a2a2a" stroke-width="1"/>
<line x1="528" y1="320.8" x2="555.6" y2="320.8" stroke="#2a2a2a" stroke-width="1"/>
<polygon points="528,320.8 534.5,319.5 534.5,322.1" fill="#2a2a2a" stroke="none" stroke-width="1"/>
<polygon points="555.6,320.8 549.1,322.1 549.1,319.5" fill="#2a2a2a" stroke="none" stroke-width="1"/>
<text x="528.5" y="319.7" font-size="15" font-weight="normal" text-anchor="start" fill="#222" textLength="26.6" lengthAdjust="spacingAndGlyphs">2.75</text>
<line x1="528" y1="335.2" x2="621.6" y2="335.2" stroke="#2a2a2a" stroke-width="1"/>
<polygon points="528,335.2 534.5,333.9 534.5,336.5" fill="#2a2a2a" stroke="none" stroke-width="1"/>
<polygon points="621.6,335.2 615.1,336.5 615.1,333.9" fill="#2a2a2a" stroke="none" stroke-width="1"/>
<text x="559.5" y="333.9" font-size="15" font-weight="normal" text-anchor="start" fill="#222" textLength="29.5" lengthAdjust="spacingAndGlyphs">9.30</text>
<line x1="528" y1="351" x2="643.9" y2="351" stroke="#2a2a2a" stroke-width="1"/>
<polygon points="528,351 534.5,349.7 534.5,352.3" fill="#2a2a2a" stroke="none" stroke-width="1"/>
<polygon points="643.9,351 637.4,352.3 637.4,349.7" fill="#2a2a2a" stroke="none" stroke-width="1"/>
<text x="569.2" y="349.6" font-size="15" font-weight="normal" text-anchor="start" fill="#222" textLength="34.6" lengthAdjust="spacingAndGlyphs">11.50</text>
<rect x="529.4" y="364.1" width="112.7" height="84.2" fill="none" stroke="#333" stroke-width="1" rx="0"/>
<circle cx="620.9" cy="376.7" r="3.7" fill="#fff" stroke="#222" stroke-width="1.3"/>
<text x="627.6" y="380.6" font-size="11" font-weight="normal" text-anchor="start" fill="#222">2</text>
<circle cx="620.9" cy="388.1" r="3.7" fill="#fff" stroke="#222" stroke-width="1.3"/>
<text x="627.6" y="392" font-size="11" font-weight="normal" text-anchor="start" fill="#222">3</text>
<circle cx="620.9" cy="400" r="3.7" fill="#fff" stroke="#222" stroke-width="1.3"/>
<text x="627.6" y="403.9" font-size="11" font-weight="normal" text-anchor="start" fill="#222">6</text>
<circle cx="620.9" cy="409.9" r="3.7" fill="#fff" stroke="#222" stroke-width="1.3"/>
<text x="627.6" y="413.8" font-size="11" font-weight="normal" text-anchor="start" fill="#222">5</text>
<circle cx="620.9" cy="422.4" r="3.7" fill="#fff" stroke="#222" stroke-width="1.3"/>
<text x="627.6" y="426.3" font-size="11" font-weight="normal" text-anchor="start" fill="#222">4</text>
<circle cx="620.9" cy="437.3" r="3.7" fill="#fff" stroke="#222" stroke-width="1.3"/>
<text x="627.6" y="441.2" font-size="11" font-weight="normal" text-anchor="start" fill="#222">1</text>
<path d="M617,376.7 H540.9 V411.7" stroke="#2a2a2a" stroke-width="0.9" fill="none"/>
<rect x="537.9" y="411.7" width="6.8" height="16.9" fill="none" stroke="#333" stroke-width="0.9" rx="0"/>
<path d="M617,388.1 H575.1 L569.9,393.4 L565.3,388.1" stroke="#2a2a2a" stroke-width="0.9" fill="none"/>
<path d="M617,400 H580.4 V389" stroke="#2a2a2a" stroke-width="0.9" fill="none"/>
<polygon points="580.4,388.6 581.4,393.1 579.4,393.1" fill="#2a2a2a" stroke="none" stroke-width="1"/>
<path d="M617,409.9 H592.7 V421.5" stroke="#2a2a2a" stroke-width="0.9" fill="none"/>
<polygon points="592.7,422 591.7,417.5 593.7,417.5" fill="#2a2a2a" stroke="none" stroke-width="1"/>
<path d="M617,422.4 H584.3 L579.3,416.7 L574.7,422.4" stroke="#2a2a2a" stroke-width="0.9" fill="none"/>
<path d="M617,437.3 H568.3 L563.7,432 L559.1,437.3" stroke="#2a2a2a" stroke-width="0.9" fill="none"/>
</svg>
</body></html>
